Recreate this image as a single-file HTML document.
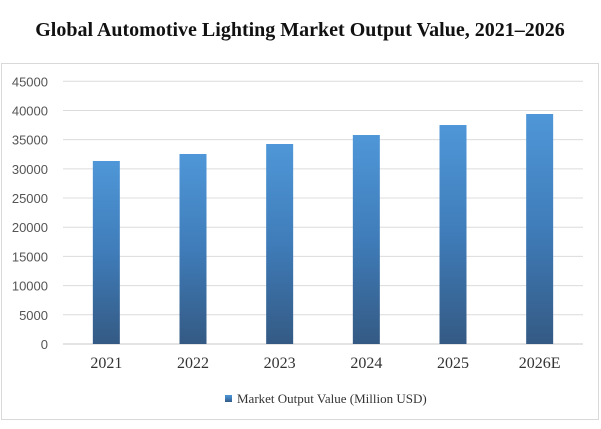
<!DOCTYPE html>
<html><head><meta charset="utf-8"><style>
body{margin:0;background:#fff;width:601px;height:424px;overflow:hidden}
</style></head><body>
<svg width="601" height="424" xmlns="http://www.w3.org/2000/svg">
<defs><linearGradient id="g" x1="0" y1="0" x2="0" y2="1"><stop offset="0" stop-color="#4f97d8"/><stop offset="0.5" stop-color="#3f7cb9"/><stop offset="1" stop-color="#345a84"/></linearGradient></defs>
<text x="300" y="36" text-anchor="middle" font-family="Liberation Serif, serif" font-weight="bold" font-size="20" fill="#111">Global Automotive Lighting Market Output Value, 2021–2026</text>
<rect x="1.5" y="63.5" width="597" height="356" fill="none" stroke="#d9d9d9"/>
<g id="grid"></g><g id="bars"></g><g id="labels"></g>
<rect x="225" y="395" width="7" height="7" fill="url(#g)"/>
<text x="237" y="403" font-family="Liberation Serif, serif" font-size="13" fill="#333">Market Output Value (Million USD)</text>
</svg>
<script>
const categories=["2021","2022","2023","2024","2025","2026E"];
const values=[31350,32550,34260,35800,37510,39400];
const ticks=[0,5000,10000,15000,20000,25000,30000,35000,40000,45000];
const NS="http://www.w3.org/2000/svg";
const x0=63,x1=583,y0=344,y1=81.3,maxV=45000;
const y=v=>y0-(v/maxV)*(y0-y1);
const bw=(x1-x0)/categories.length;
const grid=document.getElementById('grid'),bars=document.getElementById('bars'),labels=document.getElementById('labels');
function mk(tag,a){const e=document.createElementNS(NS,tag);for(const k in a)e.setAttribute(k,a[k]);return e;}
ticks.forEach(t=>{
 const l=mk('line',{x1:x0,x2:x1,y1:y(t),y2:y(t),stroke:t===0?'#c8c8c8':'#dcdcdc'});
 
 
 grid.appendChild(l);
 const tx=mk('text',{x:48,y:y(t)+5,'text-anchor':'end','font-family':'Liberation Sans, sans-serif','font-size':'13',fill:'#555'});
 tx.textContent=t;
 
 
 labels.appendChild(tx);
});
categories.forEach((c,i)=>{
 const cx=x0+bw*(i+0.5);
 const r=mk('rect',{x:cx-13.5,y:y(values[i]),width:27,height:y0-y(values[i]),fill:'url(#g)'});
 
 
 bars.appendChild(r);
 const tx=mk('text',{x:cx,y:368,'text-anchor':'middle','font-family':'Liberation Serif, serif','font-size':'16',fill:'#333'});
 tx.textContent=c;
 
 
 labels.appendChild(tx);
});
</script>
</body></html>
